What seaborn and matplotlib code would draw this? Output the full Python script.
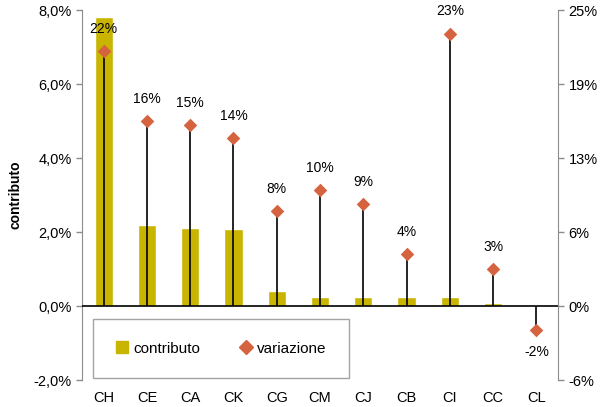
import matplotlib
matplotlib.use("Agg")
import matplotlib.pyplot as plt
import seaborn as sns
from matplotlib.lines import Line2D
from matplotlib.ticker import FuncFormatter

# data (percent)
categories = ["CH", "CE", "CA", "CK", "CG", "CM", "CJ", "CB", "CI", "CC", "CL"]
contributo = [7.8, 2.2, 2.12, 2.08, 0.4, 0.25, 0.25, 0.25, 0.25, 0.08, 0.01]
variazione = [21.5, 15.6, 15.3, 14.2, 8.0, 9.8, 8.6, 4.4, 23.0, 3.1, -2.0]

right_ticks = [-6.25, 0, 6.25, 12.5, 18.75, 25]
right_labels = ["-6%", "0%", "6%", "13%", "19%", "25%"]

bar_color = "#C9B400"
dot_color = "#D5633F"
spine_color = "#8C8C8C"

sns.set_style("white")
plt.rcParams["font.family"] = ["Liberation Sans", "DejaVu Sans"]
plt.rcParams["text.color"] = "black"
plt.rcParams["axes.labelcolor"] = "black"
plt.rcParams["xtick.color"] = "black"
plt.rcParams["ytick.color"] = "black"

fig = plt.figure(figsize=(6.01, 4.07), dpi=100)
ax = fig.add_axes([0.1364, 0.0663, 0.7921, 0.9091])

sns.barplot(x=categories, y=contributo, color=bar_color, saturation=1,
            width=0.42, ax=ax)
ax.set_xlim(-0.5, len(categories) - 0.5)
ax.set_ylim(-2, 8)
ax.set_yticks([-2, 0, 2, 4, 6, 8])
ax.yaxis.set_major_formatter(FuncFormatter(lambda v, p: f"{v:.1f}%".replace(".", ",")))
ax.axhline(0, color="black", lw=1.2, zorder=3)
ax.set_ylabel("contributo", fontsize=10, fontweight="bold", labelpad=8)
ax.set_xlabel("")

ax2 = ax.twinx()
ax2.set_ylim(-6.25, 25)
ax2.vlines(range(len(categories)), 0, variazione, color="black", lw=1.2, zorder=2)
sns.scatterplot(x=list(range(len(categories))), y=variazione, marker="D", s=48,
                color=dot_color, edgecolor=dot_color, linewidth=0, zorder=4, ax=ax2)
ax2.set_yticks(right_ticks)
ax2.set_yticklabels(right_labels)
ax2.set_xlim(-0.5, len(categories) - 0.5)

for i, v in enumerate(variazione):
    off = 16 if v >= 0 else -16
    ax2.annotate(f"{v:.0f}%", (i, v), xytext=(0, off), textcoords="offset points",
                 ha="center", va="center", fontsize=10, color="black")

for a in (ax, ax2):
    a.spines["top"].set_visible(False)
    a.spines["bottom"].set_visible(False)
    a.spines["left"].set_color(spine_color)
    a.spines["right"].set_color(spine_color)
    a.tick_params(axis="y", direction="out", length=4, width=1, color=spine_color,
                  labelcolor="black", labelsize=10.5)
ax.spines["right"].set_visible(False)
ax2.spines["left"].set_visible(False)
ax.tick_params(axis="x", length=0, labelsize=10.5, labelcolor="black", pad=8)
ax.tick_params(axis="y", left=True)
ax2.tick_params(axis="y", right=True)

handles = [
    Line2D([], [], marker="s", linestyle="none", color=bar_color, markersize=8),
    Line2D([], [], marker="D", linestyle="none", color=dot_color, markersize=7),
]
leg = ax2.legend(handles, ["contributo", "variazione"], ncol=2, loc="center",
                 bbox_to_anchor=(0.008, 0.008, 0.57, 0.154), mode="expand",
                 fontsize=11, frameon=True, fancybox=False, borderpad=1.5,
                 handlelength=0.8, handletextpad=0.3, columnspacing=1.5)
leg.get_frame().set_edgecolor(spine_color)
leg.get_frame().set_linewidth(1)
for t in leg.get_texts():
    t.set_color("black")

fig.savefig("out.png", dpi=100)
